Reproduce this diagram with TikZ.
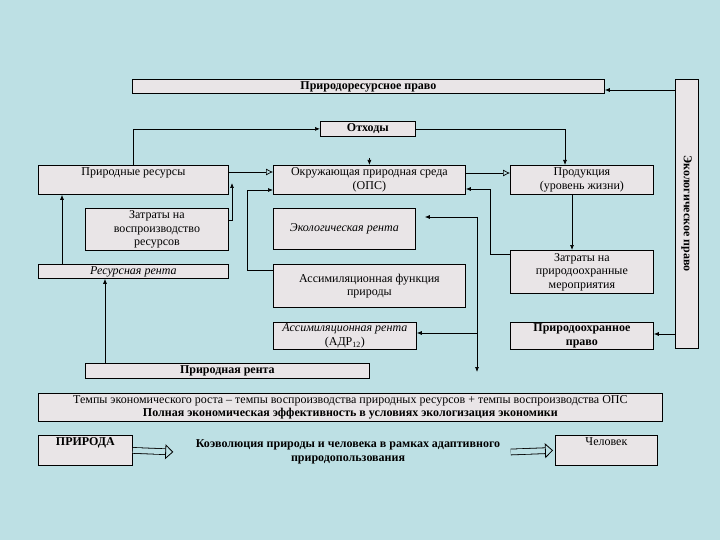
\documentclass[tikz,border=0pt]{standalone}
\usepackage{fontspec}
\setmainfont{Liberation Serif}
\usetikzlibrary{arrows.meta,calc}
\definecolor{BgSea}{RGB}{189,224,228}
\definecolor{BoxFill}{RGB}{233,229,231}
\newcommand\dfont{\fontsize{12}{13.5}\selectfont}

\begin{document}
\begin{tikzpicture}[
  x=1pt, y=-1pt,
  font=\dfont,
  >={Latex[length=5pt,width=4pt]},
  box/.style={draw, fill=BoxFill, line width=0.8pt, align=center, inner sep=1pt, anchor=north west},
  topbox/.style={box, text height=9pt, text depth=#1},
  strong/.style={font=\dfont\bfseries},
  slant/.style={font=\dfont\itshape},
  line/.style={line width=0.7pt},
  opentip/.style={line, -{Latex[open,length=7pt,width=7pt]}},
  hollow/.style={double=BgSea, double distance=5pt, line width=0.8pt,
    -{Triangle[fill=BgSea,length=8pt,width=15pt]}},
]
  % background
  \fill[BgSea] (0,0) rectangle (720,540);
  \useasboundingbox (0,0) rectangle (720,540);

  % law boxes
  \node[box, strong, minimum width=472, minimum height=14] (prpravo) at (132,79) {Природоресурсное право};
  \node[box, strong, anchor=center, rotate=-90, minimum width=269, minimum height=23] (ekpravo) at (686.5,213.5) {Экологическое право};
  \node[box, strong, minimum width=95, minimum height=15] (otkh) at (320,121) {Отходы};

  % upper row
  \node[topbox=18pt, minimum width=190] (prir) at (38,165) {Природные ресурсы};
  \node[box, minimum width=192, minimum height=29] (ops) at (273,165) {Окружающая природная среда\\(ОПС)};
  \node[box, minimum width=143, minimum height=29] (prod) at (510,165) {Продукция\\(уровень жизни)};

  % middle
  \node[box, minimum width=143, minimum height=42] (zvos) at (85,208) {Затраты на\\воспроизводство\\ресурсов};
  \node[box, slant, minimum width=142, minimum height=41] (ekrent) at (273,208) {Экологическая рента};
  \node[box, slant, minimum width=190, minimum height=14] (resrent) at (38,264) {Ресурсная рента};
  \node[box, minimum width=192, minimum height=43] (asfun) at (273,264) {Ассимиляционная функция\\природы};
  \node[box, minimum width=143, minimum height=43] (zpoh) at (510,250) {Затраты на\\природоохранные\\мероприятия};
  \node[box, minimum width=143, minimum height=27] (asrent) at (273,322) {\textit{Ассимиляционная рента}\\(АДР\textsubscript{12})};
  \node[box, strong, minimum width=143, minimum height=27] (pohpravo) at (510,322) {Природоохранное\\право};
  \node[box, strong, minimum width=284, minimum height=15] (prrent) at (85,363) {Природная рента};

  % bottom
  \node[box, minimum width=624, minimum height=28] (tempy) at (38,393)
    {Темпы экономического роста -- темпы воспроизводства природных ресурсов + темпы воспроизводства ОПС\\
     \textbf{Полная экономическая эффективность в условиях экологизация экономики}};
  \node[topbox=19pt, strong, minimum width=94] (priroda) at (38,435) {ПРИРОДА};
  \node[strong, align=center] (koev) at (348,452) {Коэволюция природы и человека в рамках адаптивного\\природопользования};
  \node[topbox=19pt, minimum width=102] (chel) at (555,435) {Человек};

  % free ends
  \coordinate (zvtip) at (232,183);
  \coordinate (rtop) at (477,217);
  \coordinate (rbot) at (477,372);

  % connectors
  \draw[line, ->] (prir.north) |- (otkh.west);
  \draw[line, ->] (otkh.east) -| ([xshift=55pt]prod.north west);
  \draw[line, ->] ([yshift=7pt]ops.north) -- (ops.north);
  \draw[opentip] (prir.east |- 0,172) -- (ops.west |- 0,172);
  \draw[opentip] (ops.east |- 0,173) -- (prod.west |- 0,173);
  \draw[line, ->] (zvos.east |- 0,220) -| (zvtip);
  \draw[line, ->] (asfun.west |- 0,270) -| (247,190) -- (ops.west |- 0,190);
  \draw[line, ->] (zpoh.west |- 0,254) -| (490,189) -- (ops.east |- 0,189);
  \draw[line, ->] (prod.south -| 572,0) -- (zpoh.north -| 572,0);
  \draw[line, ->] (rtop) -- (rbot);
  \draw[line, ->] (rtop) -- ([xshift=9pt]ekrent.east |- rtop);
  \draw[line, ->] (rtop |- 0,333) -- (asrent.east |- 0,333);
  \draw[line, ->] (resrent.north -| 62,0) -- (prir.south -| 62,0);
  \draw[line, ->] (prrent.north -| 105,0) -- (resrent.south -| 105,0);
  \draw[line, ->] (ekpravo.south |- 0,90) -- (prpravo.east |- 0,90);
  \draw[line, ->] (ekpravo.south |- 0,334) -- (pohpravo.east |- 0,334);
  \draw[hollow] (priroda.east) -- ([xshift=-19pt]koev.west);
  \draw[hollow] ([xshift=7pt]koev.east) -- ([xshift=-2pt]chel.west |- priroda.east);
\end{tikzpicture}
\end{document}
